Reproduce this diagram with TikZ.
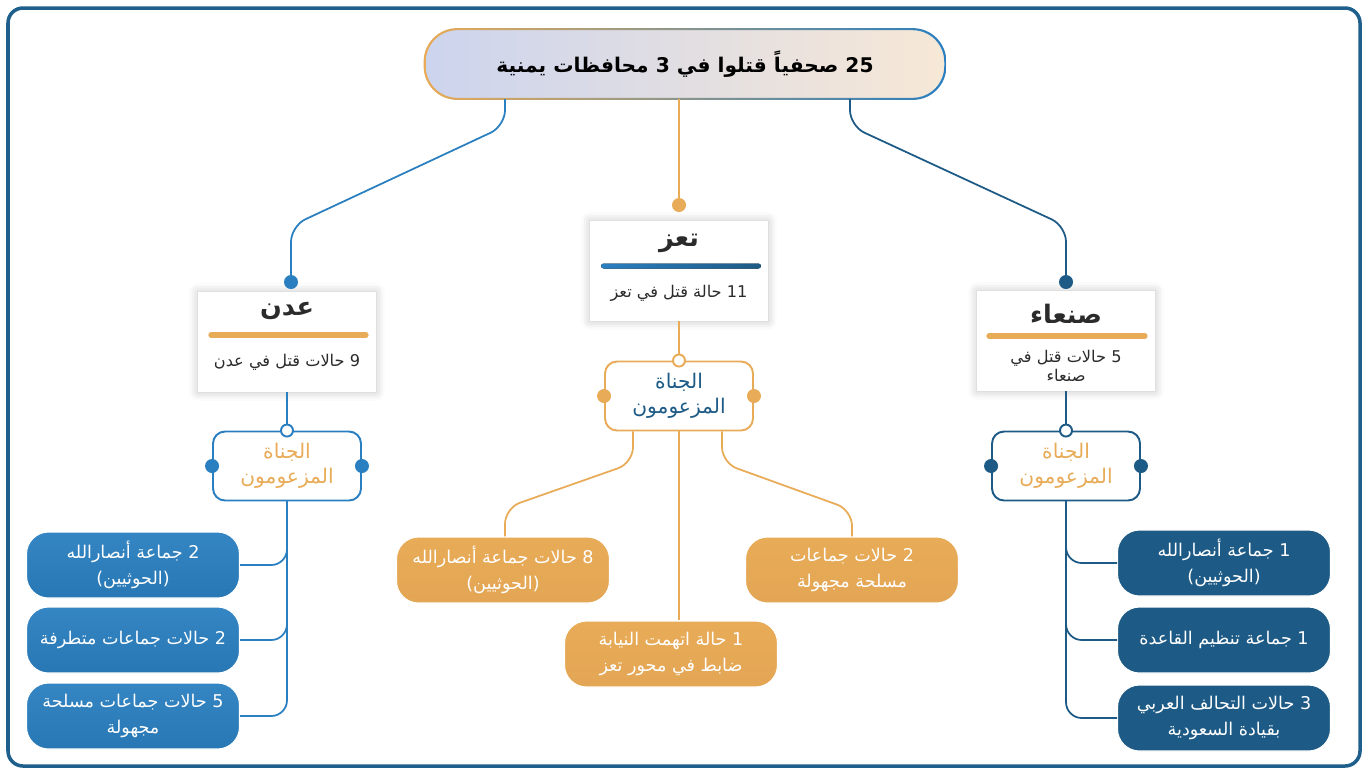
\documentclass[tikz,border=0pt]{standalone}
\usepackage{fontspec}
\newfontfamily\arabicfont[Script=Arabic]{DejaVu Sans}
\TeXXeTstate=1
\usetikzlibrary{positioning, calc, shadows.blur}
\definecolor{frameblue}{HTML}{1F5F8B}
\definecolor{adenblue}{HTML}{2A7FC0}
\definecolor{navyblue}{HTML}{1D5A85}
\definecolor{taizorange}{HTML}{E8AB57}
\definecolor{lavender}{HTML}{CCD4EE}
\definecolor{peach}{HTML}{F7E8D6}
\definecolor{textgray}{HTML}{2B2B2B}
\newcommand{\rl}[1]{\beginR #1\endR}
\tikzset{
  titlebox/.style={
    rectangle, rounded corners=0.65cm, minimum width=10.4cm, minimum height=1.38cm,
    left color=lavender, right color=peach,
    font=\arabicfont\bfseries\fontsize{11.5}{14}\selectfont, text=black
  },
  region/.style={
    rectangle, fill=white, minimum width=3.56cm, minimum height=2cm,
    blur shadow={shadow xshift=0pt, shadow yshift=0pt, shadow blur radius=5pt, shadow opacity=25}
  },
  headtxt/.style={font=\arabicfont\bfseries\fontsize{14.5}{16}\selectfont, text=textgray},
  bodytxt/.style={font=\arabicfont\fontsize{9.2}{11}\selectfont, text=textgray, align=center},
  perp/.style={
    rectangle, rounded corners=0.24cm, minimum width=2.96cm, minimum height=1.38cm,
    fill=white, line width=1.1pt, align=center, font=\arabicfont\fontsize{11.5}{14.5}\selectfont
  },
  leaf/.style={
    rectangle, rounded corners=0.44cm, minimum width=4.26cm, minimum height=1.32cm,
    text=white, align=center, font=\arabicfont\fontsize{10}{14.5}\selectfont,
    draw=white, line width=0.6pt
  },
  hollow/.style={circle, draw, fill=white, line width=1.1pt, inner sep=0pt, minimum size=0.24cm},
  dot/.style={circle, inner sep=0pt, minimum size=0.28cm},
  link/.style={line width=1pt, rounded corners=9pt}
}

\begin{document}
\begin{tikzpicture}[x=0.02cm, y=-0.02cm]
\useasboundingbox (0,0) rectangle (1368,769);
\draw[frameblue, line width=2pt, rounded corners=0.3cm] (8,8) rectangle (1360,766);

% title
\node[titlebox] (title) at (685,64) {\rl{25 صحفياً قتلوا في 3 محافظات يمنية}};
\shade[left color=taizorange, right color=adenblue, even odd rule]
  [rounded corners=0.67cm] ([shift={(-0.6pt,0.6pt)}]title.north west) rectangle ([shift={(0.6pt,-0.6pt)}]title.south east)
  [rounded corners=0.63cm] ([shift={(0.6pt,-0.6pt)}]title.north west) rectangle ([shift={(-0.6pt,0.6pt)}]title.south east);

% governorates
\node[region] (aden) at (287,342) {};
\node[region] (taiz) at (679,271) {};
\node[region] (sanaa) at (1066,341) {};

\node[headtxt] (adenhead) at (287,311) {\rl{عدن}};
\draw[taizorange, line width=3pt, line cap=round] (211,335) -- (366,335);
\node[bodytxt] (adentxt) at (287,362) {\rl{9 حالات قتل في عدن}};

\node[headtxt] (taizhead) at (679,243) {\rl{تعز}};
\fill[left color=adenblue, right color=navyblue, rounded corners=1.5pt] (601,263.5) rectangle (761,268.5);
\node[bodytxt] (taiztxt) at (679,293) {\rl{11 حالة قتل في تعز}};

\node[headtxt] (sanaahead) at (1066,314) {\rl{صنعاء}};
\draw[taizorange, line width=3pt, line cap=round] (989,336) -- (1145,336);
\node[bodytxt] (sanaatxt) at (1066,366) {\rl{5 حالات قتل في}\\\rl{صنعاء}};

% links from title
\coordinate (tl) at (505,99);
\coordinate (tr) at (850,99);
\coordinate (adentop) at (291,282);
\coordinate (sanaatop) at (1066,282);
\coordinate (taiztop) at (679,205);
\draw[link, adenblue] (tl) -- (505,126) -- (291,226) -- (adentop);
\draw[link, navyblue] (tr) -- (850,126) -- (1066,226) -- (sanaatop);
\draw[link, taizorange] (title.south -| taiztop) -- (taiztop);
\node[dot, fill=adenblue] at (adentop) {};
\node[dot, fill=navyblue] at (sanaatop) {};
\node[dot, fill=taizorange] at (taiztop) {};

% perpetrators
\node[perp, draw=adenblue, text=taizorange] (adenperp) at (287,466) {\rl{الجناة}\\\rl{المزعومون}};
\node[perp, draw=taizorange, text=navyblue] (taizperp) at (679,396) {\rl{الجناة}\\\rl{المزعومون}};
\node[perp, draw=navyblue, text=taizorange] (sanaaperp) at (1066,466) {\rl{الجناة}\\\rl{المزعومون}};

\draw[link, adenblue] (aden.south) -- (adenperp.north);
\draw[link, taizorange] (taiz.south) -- (taizperp.north);
\draw[link, navyblue] (sanaa.south) -- (sanaaperp.north);

% leaves aden
\node[leaf, top color=adenblue!95!white, bottom color=adenblue!80!navyblue] (aden1) at (133,565) {\rl{2 جماعة أنصارالله}\\\rl{(الحوثيين)}};
\node[leaf, top color=adenblue!95!white, bottom color=adenblue!80!navyblue] (aden2) at (133,640) {\rl{2 حالات جماعات متطرفة}};
\node[leaf, top color=adenblue!95!white, bottom color=adenblue!80!navyblue] (aden3) at (133,716) {\rl{5 حالات جماعات مسلحة}\\\rl{مجهولة}};
\foreach \n in {aden1, aden2, aden3}
  \draw[link, adenblue] (adenperp.south) |- (\n.east);

% leaves taiz
\node[leaf, top color=taizorange, bottom color=taizorange!88!brown] (taiz1) at (503,570) {\rl{8 حالات جماعة أنصارالله}\\\rl{(الحوثيين)}};
\node[leaf, top color=taizorange, bottom color=taizorange!88!brown] (taiz2) at (852,570) {\rl{2 حالات جماعات}\\\rl{مسلحة مجهولة}};
\node[leaf, top color=taizorange, bottom color=taizorange!88!brown] (taiz3) at (671,654) {\rl{1 حالة اتهمت النيابة}\\\rl{ضابط في محور تعز}};
\draw[link, taizorange] (taizperp.south -| 633,0) -- (633,463) -- (505,508) -- (taiz1.north -| 505,0);
\draw[link, taizorange] (taizperp.south -| 722,0) -- (722,463) -- (852,510) -- (taiz2.north);
\draw[link, taizorange] (taizperp.south) -- (taiz3.north -| taizperp.south);

% leaves sanaa
\node[leaf, fill=navyblue] (sanaa1) at (1224,563) {\rl{1 جماعة أنصارالله}\\\rl{(الحوثيين)}};
\node[leaf, fill=navyblue] (sanaa2) at (1224,640) {\rl{1 جماعة تنظيم القاعدة}};
\node[leaf, fill=navyblue] (sanaa3) at (1224,718) {\rl{3 حالات التحالف العربي}\\\rl{بقيادة السعودية}};
\foreach \n in {sanaa1, sanaa2, sanaa3}
  \draw[link, navyblue] (sanaaperp.south) |- (\n.west);

% connector marks on perpetrators
\node[hollow, draw=adenblue] at (adenperp.north) {};
\node[dot, fill=adenblue] at (adenperp.west) {};
\node[dot, fill=adenblue] at (adenperp.east) {};
\node[hollow, draw=taizorange] at (taizperp.north) {};
\node[dot, fill=taizorange] at (taizperp.west) {};
\node[dot, fill=taizorange] at (taizperp.east) {};
\node[hollow, draw=navyblue] at (sanaaperp.north) {};
\node[dot, fill=navyblue] at (sanaaperp.west) {};
\node[dot, fill=navyblue] at (sanaaperp.east) {};

\end{tikzpicture}
\end{document}
